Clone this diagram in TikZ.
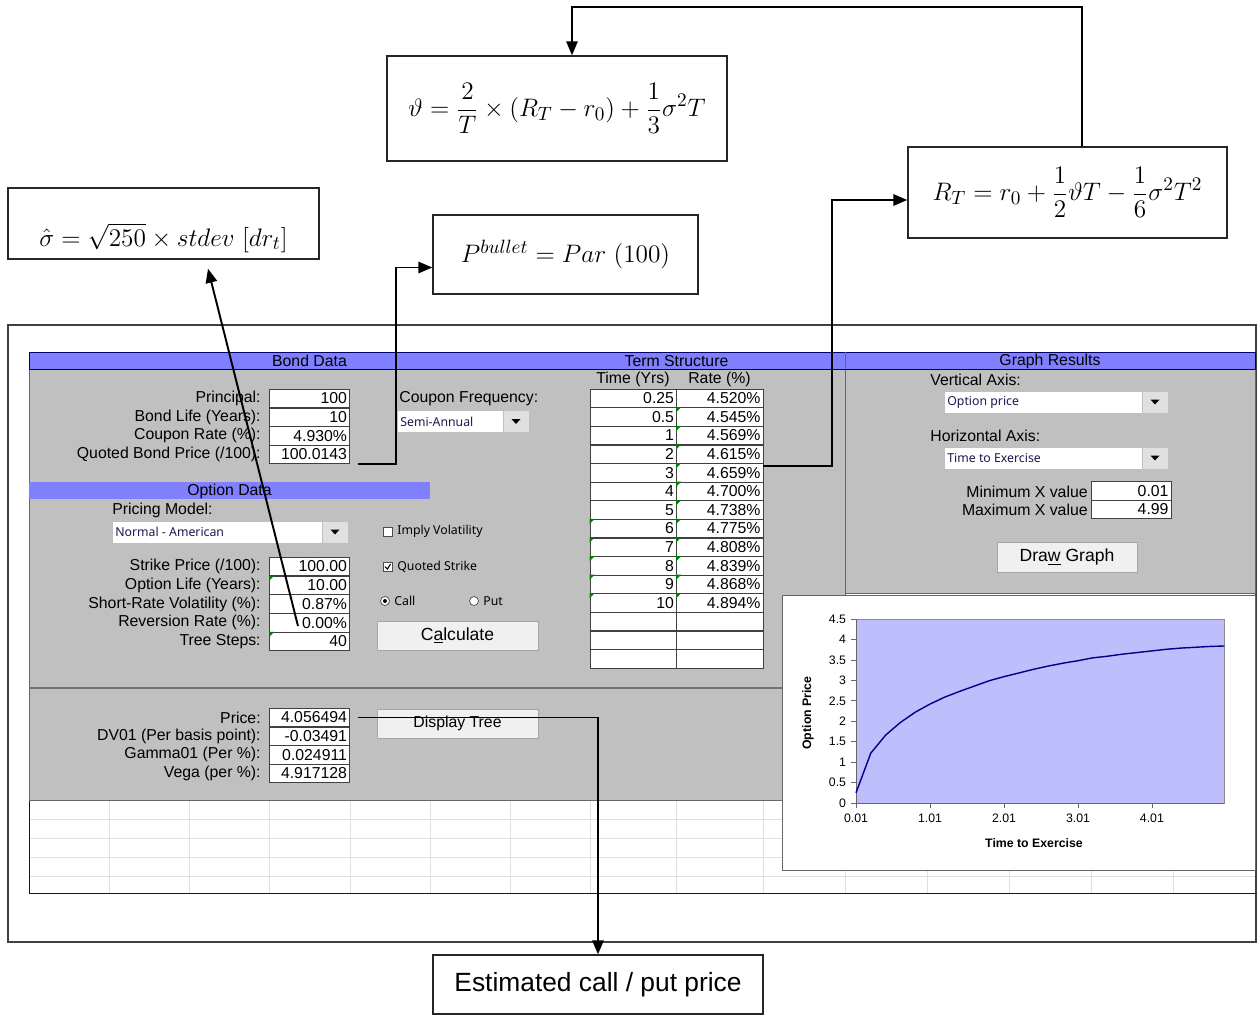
\documentclass[tikz,border=0pt]{standalone}
\usepackage{amsmath,amssymb}
\usepackage{fontspec}
\setmainfont{Liberation Sans}
\newfontfamily\uifont{Noto Sans}
\usepackage{tikz}
\usetikzlibrary{arrows.meta}
\definecolor{hdrblue}{RGB}{128,128,255}
\definecolor{xlgray}{RGB}{192,192,192}
\definecolor{plotblue}{RGB}{190,190,252}
\definecolor{btngray}{RGB}{240,240,240}
\definecolor{ddblue}{RGB}{25,25,80}
\definecolor{cellgreen}{RGB}{0,128,0}
\definecolor{navycurve}{RGB}{0,0,140}

\tikzset{
  eqbox/.style={draw=black!85, line width=0.8pt, inner sep=0pt},
  link/.style={->, >={Triangle[length=8pt,width=6.5pt]}, line width=1.1pt},
  hdr/.style={font=\fontsize{9}{10}\selectfont, inner sep=0pt},
  lbl/.style={font=\fontsize{9}{10}\selectfont, inner sep=0pt, anchor=east},
  cell/.style={draw=black!75, fill=white, minimum height=0.37cm, text width=1.5cm, align=right, inner xsep=0.05cm, inner ysep=0pt, font=\fontsize{9}{10}\selectfont},
  tscell/.style={cell, text width=1.63cm},
  btn/.style={draw=black!35, fill=btngray, minimum width=3.22cm, minimum height=0.58cm, font=\fontsize{10}{11}\selectfont},
  ui/.style={font=\uifont\fontsize{7}{8}\selectfont, inner sep=0pt, anchor=west},
  axlbl/.style={font=\fontsize{7}{8}\selectfont, inner sep=0pt}
}

\begin{document}
\begin{tikzpicture}[x=0.02cm, y=-0.02cm]
\useasboundingbox (0,0) rectangle (1257,1015);

% screenshot of the spreadsheet
\draw[black!75, line width=0.8pt] (8,325) rectangle (1256,942);
\foreach \gx in {109,189,269,350,430,510,590,676,763,845,927,1009,1091,1173}
  \draw[black!12] (\gx,800) -- (\gx,893);
\foreach \gy in {819,838,857,876}
  \draw[black!12] (29,\gy) -- (1255,\gy);
\draw[blue!80!black] (29,800) -- (29,893) -- (1257,893);
\filldraw[fill=xlgray, draw=black!60] (29,369) rectangle (845,800);
\filldraw[fill=xlgray, draw=black!60] (845,369) rectangle (1255,593);
\draw[black!55, line width=1pt] (29,688) -- (845,688);
\filldraw[fill=hdrblue, draw=blue!40!black] (29,352) rectangle (1255,369);
\draw[black!60] (845,352) -- (845,369);
\fill[hdrblue] (29,482) rectangle (430,499);

\node[hdr] (bondhdr) at (309.5,361) {Bond Data};
\node[hdr] (termhdr) at (676.5,361) {Term Structure};
\node[hdr] (graphhdr) at (1050,361) {Graph Results};
\node[hdr] (opthdr) at (229.5,491) {Option Data};

% bond data
\foreach \lab/\val/\nm [count=\i] in {Principal:/100/princ, {Bond Life (Years):}/10/blife, {Coupon Rate (\%):}/4.930\%/crate, {Quoted Bond Price (/100):}/100.0143/bprice}{
  \node[cell] (\nm) at (309.5,{398.5+18.6*(\i-1)}) {\val};
  \node[lbl] at (261,{398.5+18.6*(\i-1)}) {\lab};
}
\node[lbl, anchor=west] (cflbl) at (399,398.5) {Coupon Frequency:};
\node[lbl, anchor=west] (pmlbl) at (112,510.5) {Pricing Model:};

% option data
\foreach \lab/\val/\nm [count=\i] in {{Strike Price (/100):}/100.00/strike, {Option Life (Years):}/10.00/olife, {Short-Rate Volatility (\%):}/0.87\%/srvol, {Reversion Rate (\%):}/0.00\%/revrate, {Tree Steps:}/40/steps}{
  \node[cell] (\nm) at (309.5,{566.5+18.75*(\i-1)}) {\val};
  \node[lbl] at (261,{566.5+18.75*(\i-1)}) {\lab};
}
\foreach \nm in {olife,steps}
  \fill[cellgreen] (\nm.north west) -- ++(5,0) -- ++(-5,5) -- cycle;

% results
\foreach \lab/\val/\nm [count=\i] in {Price:/4.056494/price, {DV01 (Per basis point):}/-0.03491/dvone, {Gamma01 (Per \%):}/0.024911/gamma, {Vega (per \%):}/4.917128/vega}{
  \node[cell] (\nm) at (309.5,{717.5+18.67*(\i-1)}) {\val};
  \node[lbl] at (261,{717.5+18.67*(\i-1)}) {\lab};
}

% drop-down lists
\foreach \nm/\xa/\xb/\yc/\txt in {cfreq/397/529/421.5/Semi-Annual, pmodel/112/348/532/Normal - American, vaxis/944/1168/402/Option price, haxis/944/1168/458/Time to Exercise}{
  \filldraw[fill=white, draw=black!25] (\xa,\yc-11) rectangle (\xb,\yc+11);
  \filldraw[fill=black!12, draw=black!25] (\xb-26,\yc-11) rectangle (\xb,\yc+11);
  \fill (\xb-17.5,\yc-2.5) -- ++(9,0) -- ++(-4.5,5) -- cycle;
  \node[ui, text=ddblue] (\nm) at (\xa+3,\yc) {\txt};
}

% check boxes and radio buttons
\filldraw[fill=white, draw=black!70] (383,527) rectangle (392,536);
\node[ui] (implyvol) at (397,531.5) {Imply Volatility};
\filldraw[fill=white, draw=black!70] (383,562) rectangle (392,571);
\draw[line width=0.6pt] (385,566.5) -- (387.5,569) -- (390.5,564);
\node[ui] (qstrike) at (397,566.5) {Quoted Strike};
\filldraw[fill=white, draw=black!70] (385,601) circle (0.09cm);
\fill (385,601) circle (0.04cm);
\node[ui] (callopt) at (394,601) {Call};
\filldraw[fill=white, draw=black!70] (474,601) circle (0.09cm);
\node[ui] (putopt) at (483,601) {Put};

\node[btn] (calcbtn) at (457.5,635.5) {C\underline{a}lculate};
\node[btn, font=\fontsize{9}{10}\selectfont] (treebtn) at (457.5,723.5) {Display Tree};

% term structure
\node[hdr] (timehdr) at (633,379.5) {Time (Yrs)};
\node[hdr] (ratehdr) at (719.5,379.5) {Rate (\%)};
\foreach \tv/\rv [count=\i] in {0.25/4.520,0.5/4.545,1/4.569,2/4.615,3/4.659,4/4.700,5/4.738,6/4.775,7/4.808,8/4.839,9/4.868,10/4.894}{
  \node[tscell] (time\i) at (633.25,{389+18.6*(\i-0.5)}) {\tv};
  \node[tscell] (rate\i) at (719.75,{389+18.6*(\i-0.5)}) {\rv\%};
}
\foreach \i in {13,14,15}{
  \node[tscell] (time\i) at (633.25,{389+18.6*(\i-0.5)}) {};
  \node[tscell] (rate\i) at (719.75,{389+18.6*(\i-0.5)}) {};
}
\foreach \i in {2,...,12}
  \fill[cellgreen] (rate\i.north west) -- ++(5,0) -- ++(-5,5) -- cycle;
\foreach \i in {8,...,12}
  \fill[cellgreen] (time\i.north west) -- ++(5,0) -- ++(-5,5) -- cycle;

% graph results
\node[lbl, anchor=west] (vaxlbl) at (930,379.5) {Vertical Axis:};
\node[lbl, anchor=west] (haxlbl) at (930,435.5) {Horizontal Axis:};
\node[cell] (minx) at (1131,491) {0.01};
\node[cell] (maxx) at (1131,509.5) {4.99};
\node[lbl] at (1088,491.5) {Minimum X value};
\node[lbl] at (1088,510) {Maximum X value};
\node[btn, minimum width=2.8cm, minimum height=0.6cm] (drawbtn) at (1067,557) {Dra\underline{w} Graph};

% chart
\filldraw[fill=white, draw=black!60] (782,595) rectangle (1255,870);
\filldraw[fill=plotblue, draw=black!45] (856,619) rectangle (1224,803);
\begin{scope}[shift={(856,803)}, x=1.48cm, y=0.818cm]
  \draw[black!60] (0,4.5) -- (0,0) -- (4.98,0);
  \foreach \v in {0,0.5,1,1.5,2,2.5,3,3.5,4,4.5}{
    \draw[black!60] (-0.07,\v) -- (0,\v);
    \node[axlbl, anchor=east] at (-0.13,\v) {\v};
  }
  \foreach \k in {0,...,4}{
    \draw[black!60] (\k,0) -- (\k,-0.12);
    \node[axlbl] at (\k,-0.37) {\k.01};
  }
  \draw[navycurve, line width=0.8pt] plot coordinates {(0,0.25) (0.2,1.22) (0.4,1.66) (0.6,1.97) (0.8,2.22) (1.0,2.42) (1.2,2.59) (1.4,2.73) (1.6,2.86) (1.8,2.99) (2.0,3.09) (2.2,3.18) (2.4,3.27) (2.6,3.35) (2.8,3.42) (3.0,3.48) (3.2,3.55) (3.4,3.59) (3.6,3.64) (3.8,3.68) (4.0,3.72) (4.2,3.76) (4.4,3.79) (4.6,3.81) (4.8,3.83) (4.98,3.84)};
\end{scope}
\node[axlbl, font=\bfseries\fontsize{7}{8}\selectfont, rotate=90] (ylab) at (808,713) {Option Price};
\node[axlbl, font=\bfseries\fontsize{7}{8}\selectfont] (xlab) at (1034,843) {Time to Exercise};

% formula boxes
\node[eqbox, minimum width=6.22cm, text height=1.16cm, text depth=0.26cm, font=\fontsize{15}{18}\selectfont] (sigbox) at (163.5,223.5) {$\hat{\sigma} = \sqrt{250}\times stdev\ [dr_t]$};
\node[eqbox, minimum width=5.3cm, minimum height=1.58cm, font=\fontsize{15.5}{18}\selectfont] (pbbox) at (565.5,254.5) {$P^{bullet} = Par\ (100)$};
\node[eqbox, minimum width=6.8cm, minimum height=2.1cm, font=\fontsize{15}{18}\selectfont] (thbox) at (557,108.5) {$\displaystyle \vartheta = \frac{2}{T}\times(R_T-r_0)+\frac{1}{3}\sigma^2T$};
\node[eqbox, minimum width=6.38cm, minimum height=1.82cm, font=\fontsize{15}{18}\selectfont] (rtbox) at (1067.5,192.5) {$\displaystyle R_T = r_0+\frac{1}{2}\vartheta T-\frac{1}{6}\sigma^2T^2$};
\node[eqbox, minimum width=6.6cm, minimum height=1.18cm, font=\fontsize{15}{18}\selectfont] (estbox) at (598,984.5) {Estimated call / put price};

% connectors
\coordinate (tsout) at ([yshift=0.13cm]rate5.east);
\coordinate (volpt) at (298,626);
\draw[link] ([xshift=0.29cm]rtbox.north) -- ++(0,-139) -| ([xshift=0.3cm]thbox.north);
\draw[link] (tsout) -- ++(69,0) |- ([yshift=-0.15cm]rtbox.west);
\draw[link] ([xshift=0.16cm]bprice.south east) -- ++(38,0) |- ([yshift=-0.26cm]pbbox.west);
\draw[link] (volpt) -- ([xshift=0.89cm, yshift=-0.18cm]sigbox.south);
\draw[link] ([xshift=0.16cm]price.east) -| (estbox.north);
\end{tikzpicture}
\end{document}
